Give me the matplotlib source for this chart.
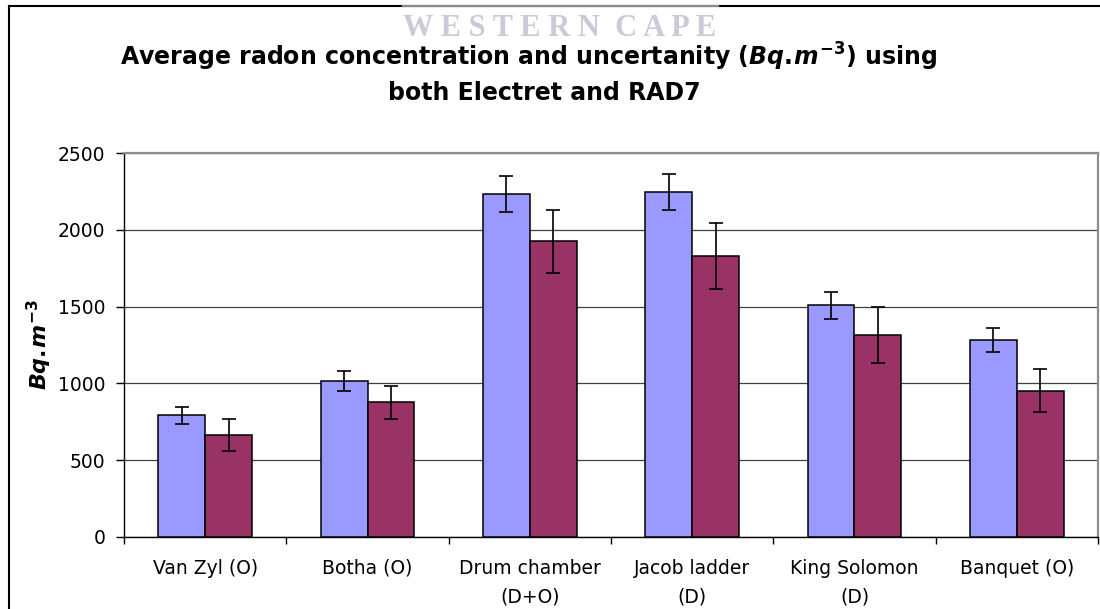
import matplotlib
matplotlib.use("agg")
import matplotlib.pyplot as plt
from matplotlib.lines import Line2D
import numpy as np

# bold italic maths text for the "Bq.m-3" units
plt.rcParams["mathtext.fontset"] = "custom"
plt.rcParams["mathtext.it"] = "DejaVu Sans:italic:bold"
plt.rcParams["mathtext.rm"] = "DejaVu Sans:bold"
plt.rcParams["mathtext.bf"] = "DejaVu Sans:bold"

# data
sites = ["Van Zyl (O)", "Botha (O)", "Drum chamber\n(D+O)", "Jacob ladder\n(D)",
         "King Solomon\n(D)", "Banquet (O)"]
electret = [792, 1015, 2237, 2246, 1509, 1283]
electret_err = [54, 64, 118, 118, 87, 76]
rad7 = [664, 876, 1925, 1831, 1315, 952]
rad7_err = [102, 108, 204, 214, 183, 140]
yticks = [0, 500, 1000, 1500, 2000, 2500]

blue = "#9999FF"
plum = "#993366"
unit = r"$Bq.\!m^{-3}$"

fig = plt.figure(figsize=(11, 6.09), dpi=100)
ax = fig.add_axes([124 / 1100, 1 - 536.7 / 609, 974 / 1100, 383.4 / 609])

x = np.arange(len(sites))
w = 0.288
err_kw = dict(ecolor="black", elinewidth=1.2, capsize=4.7, capthick=1.2)
ax.bar(x - w / 2, electret, w, yerr=electret_err, color=blue,
       edgecolor="black", linewidth=1.1, error_kw=err_kw, zorder=3)
ax.bar(x + w / 2, rad7, w, yerr=rad7_err, color=plum,
       edgecolor="black", linewidth=1.1, error_kw=err_kw, zorder=3)

ax.set_xlim(-0.5, len(sites) - 0.5)
ax.set_ylim(0, 2500)
ax.set_yticks(yticks)
ax.yaxis.grid(True, color="#404040", linewidth=0.9, zorder=0)
ax.set_axisbelow(True)

ax.set_xticks(x)
ax.set_xticklabels(sites, fontsize=13.5, linespacing=1.65)
ax.set_xticks(np.arange(len(sites) + 1) - 0.5, minor=True)
ax.tick_params(axis="x", which="major", length=0, pad=16)
ax.tick_params(axis="x", which="minor", length=5, width=1, direction="out")
ax.tick_params(axis="y", length=5.5, width=1, direction="out", labelsize=13.5, pad=8)

for side in ("left", "bottom"):
    ax.spines[side].set_color("black")
    ax.spines[side].set_linewidth(1)
for side in ("top", "right"):
    ax.spines[side].set_color("#8c8c8c")
    ax.spines[side].set_linewidth(1.6)

ax.set_ylabel(unit, fontsize=16, labelpad=3)

# title (centred on the chart area, not the plot area)
fig.text(529 / 1100, 1 - 57 / 609,
         "Average radon concentration and uncertanity (" + unit + ") using",
         ha="center", va="center", fontsize=17, fontweight="bold")
fig.text(544 / 1100, 1 - 93 / 609, "both Electret and RAD7",
         ha="center", va="center", fontsize=17, fontweight="bold")

# outer chart border (right and bottom edges fall outside the crop)
fig.add_artist(Line2D([9 / 1100, 9 / 1100], [0, 1 - 6 / 609], color="black",
                      linewidth=1.5, transform=fig.transFigure))
fig.add_artist(Line2D([9 / 1100, 1], [1 - 6 / 609, 1 - 6 / 609], color="black",
                      linewidth=1.5, transform=fig.transFigure))
fig.add_artist(Line2D([403 / 1100, 718 / 1100], [1 - 6 / 609, 1 - 6 / 609],
                      color="#8a8a8a", linewidth=1.6, transform=fig.transFigure))

# scanned watermark
fig.text(560 / 1100, 1 - 29 / 609, "W E S T E R N  C A P E", ha="center", va="center",
         fontsize=22, family="Liberation Serif", fontweight="bold", color="#c9cbd9")

fig.savefig("out.png", dpi=100)
